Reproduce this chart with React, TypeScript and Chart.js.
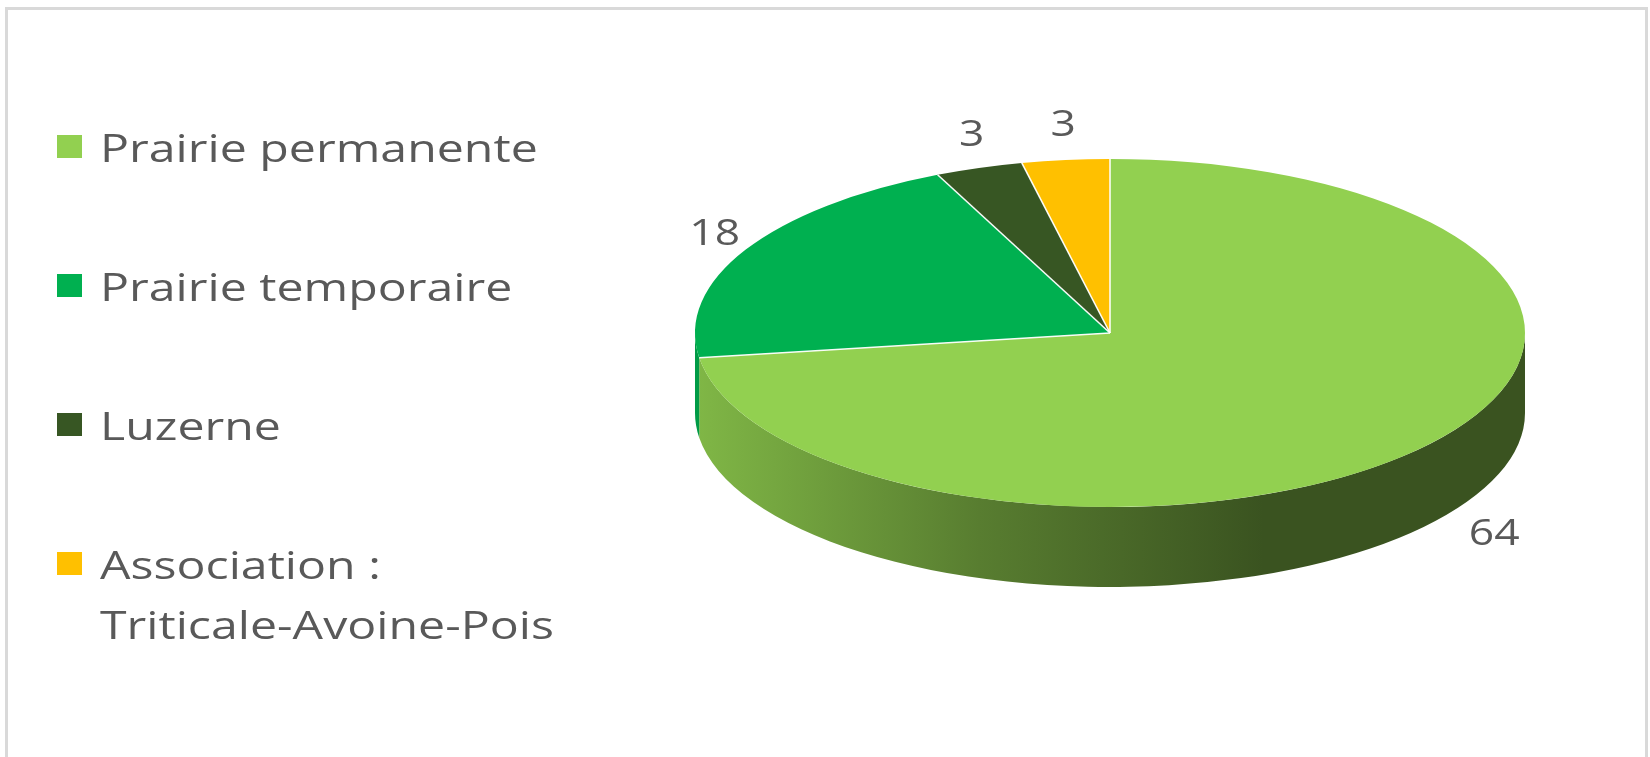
import React, { useEffect, useRef } from "react";
import { Chart, registerables } from "chart.js";

Chart.register(...registerables);

// ---- data ----
const categories: (string | string[])[] = [
  "Prairie permanente",
  "Prairie temporaire",
  "Luzerne",
  ["Association :", "Triticale-Avoine-Pois"],
];
const values = [64, 18, 3, 3];
const sliceColors = ["#92D050", "#00B050", "#375623", "#FFC000"];

// ---- layout / style ----
const W = 1650;
const H = 757;
const FONT = "'Open Sans', 'Noto Sans', sans-serif";
const TEXT_COLOR = "#595959";
const TEXT_SX = 1.27; // horizontal stretch of the text
const FONT_SIZE = 38;
const LABEL_SX = 1.2;
const LABEL_SIZE = 37;
const PIE_RX = 415;
const PIE_RY = 174;
const DEPTH = 80;
const GAP_X = 10;
const GAP_Y = 24;
const FRONT_GAP_X = 68;
const FRONT_GAP_Y = 36;
const LEGEND_X = 57;
const LEGEND_TEXT_X = 100;
const LEGEND_TOP = 148;
const LEGEND_STEP = 139;
const LEGEND_LINE = 60;
const LEGEND_BOX = 24;

function shade(hex: string, f: number) {
  const n = parseInt(hex.slice(1), 16);
  const r = Math.round(((n >> 16) & 255) * f);
  const g = Math.round(((n >> 8) & 255) * f);
  const b = Math.round((n & 255) * f);
  return `rgb(${r},${g},${b})`;
}

function frontRanges(s: number, e: number): [number, number][] {
  const out: [number, number][] = [];
  for (let k = -2; k <= 2; k++) {
    const off = 2 * Math.PI * k;
    const lo = Math.max(s, off);
    const hi = Math.min(e, Math.PI + off);
    if (hi > lo) out.push([lo - off, hi - off]);
  }
  return out;
}

function drawText(
  ctx: CanvasRenderingContext2D,
  text: string,
  x: number,
  baseline: number,
  align: CanvasTextAlign,
  sx: number
) {
  ctx.save();
  ctx.translate(x, baseline);
  ctx.scale(sx, 1);
  ctx.textAlign = align;
  ctx.textBaseline = "alphabetic";
  ctx.fillText(text, 0, 0);
  ctx.restore();
}

const framePlugin = {
  id: "frame",
  beforeDraw(chart: any) {
    const ctx: CanvasRenderingContext2D = chart.ctx;
    ctx.save();
    ctx.fillStyle = "#FFFFFF";
    ctx.fillRect(0, 0, chart.width, chart.height);
    ctx.strokeStyle = "#D9D9D9";
    ctx.lineWidth = 3;
    ctx.strokeRect(6.5, 8.5, 1640, 800);
    ctx.restore();
  },
};

const pie3dPlugin = {
  id: "pie3d",
  beforeDatasetsDraw(chart: any) {
    const ctx: CanvasRenderingContext2D = chart.ctx;
    const arcs = chart.getDatasetMeta(0).data as any[];
    const colors = chart.data.datasets[0].backgroundColor as string[];
    const p0 = arcs[0].getProps(["x", "y", "outerRadius"], true);
    const cx = p0.x;
    const cy = p0.y;
    const R = p0.outerRadius;
    // side walls (front half only)
    arcs.forEach((arc, i) => {
      const p = arc.getProps(["startAngle", "endAngle"], true);
      frontRanges(p.startAngle, p.endAngle).forEach(([a, b]) => {
        const g = ctx.createLinearGradient(cx - PIE_RX, 0, cx + PIE_RX * 0.37, 0);
        g.addColorStop(0, shade(colors[i], 0.88));
        g.addColorStop(0.5, shade(colors[i], 0.6));
        g.addColorStop(1, shade(colors[i], 0.4));
        ctx.beginPath();
        ctx.ellipse(cx, cy, PIE_RX, PIE_RY, 0, a, b, false);
        ctx.ellipse(cx, cy + DEPTH, PIE_RX, PIE_RY, 0, b, a, true);
        ctx.closePath();
        ctx.fillStyle = g;
        ctx.fill();
      });
    });
    // squash the library's pie into the tilted top face
    ctx.save();
    ctx.translate(cx, cy);
    ctx.scale(PIE_RX / R, PIE_RY / R);
    ctx.translate(-cx, -cy);
  },
  afterDatasetsDraw(chart: any) {
    const ctx: CanvasRenderingContext2D = chart.ctx;
    ctx.restore();
    const arcs = chart.getDatasetMeta(0).data as any[];
    const data = chart.data.datasets[0].data as number[];
    const p0 = arcs[0].getProps(["x", "y"], true);
    const cx = p0.x;
    const cy = p0.y;
    // white separators
    ctx.save();
    ctx.strokeStyle = "rgba(255,255,255,0.95)";
    ctx.lineWidth = 1.6;
    arcs.forEach((arc) => {
      const p = arc.getProps(["startAngle"], true);
      ctx.beginPath();
      ctx.moveTo(cx, cy);
      ctx.lineTo(cx + PIE_RX * Math.cos(p.startAngle), cy + PIE_RY * Math.sin(p.startAngle));
      ctx.stroke();
    });
    ctx.restore();
    // data labels (outside end)
    ctx.save();
    ctx.fillStyle = TEXT_COLOR;
    ctx.font = `${LABEL_SIZE}px ${FONT}`;
    const cap = LABEL_SIZE * 0.714;
    arcs.forEach((arc, i) => {
      const p = arc.getProps(["startAngle", "endAngle"], true);
      const mid = (p.startAngle + p.endAngle) / 2;
      const c = Math.cos(mid);
      const s = Math.sin(mid);
      const txt = String(data[i]);
      const w = ctx.measureText(txt).width * LABEL_SX;
      const front = s > 0;
      const gx = front ? FRONT_GAP_X : GAP_X;
      const gy = front ? FRONT_GAP_Y : GAP_Y;
      const ax = cx + (PIE_RX + gx) * c;
      const ay = cy + (PIE_RY + gy) * s + (front ? DEPTH * s : 0);
      const tx = ax + (w / 2) * c;
      const ty = ay + (cap / 2) * s;
      drawText(ctx, txt, tx, ty + cap / 2, "center", LABEL_SX);
    });
    ctx.restore();
  },
  afterDraw(chart: any) {
    // legend
    const ctx: CanvasRenderingContext2D = chart.ctx;
    const labels = chart.data.labels as (string | string[])[];
    const colors = chart.data.datasets[0].backgroundColor as string[];
    ctx.save();
    ctx.font = `${FONT_SIZE}px ${FONT}`;
    const cap = FONT_SIZE * 0.714;
    labels.forEach((lab, i) => {
      const cyRow = LEGEND_TOP + LEGEND_STEP * i;
      ctx.fillStyle = colors[i];
      ctx.fillRect(LEGEND_X, cyRow - LEGEND_BOX / 2 - 1, LEGEND_BOX + 1, LEGEND_BOX - 1);
      ctx.fillStyle = TEXT_COLOR;
      const lines = Array.isArray(lab) ? lab : [lab];
      lines.forEach((ln, j) => {
        drawText(ctx, ln, LEGEND_TEXT_X, cyRow + cap / 2 + j * LEGEND_LINE, "left", TEXT_SX);
      });
    });
    ctx.restore();
  },
};

export default function App() {
  const ref = useRef<HTMLCanvasElement | null>(null);
  useEffect(() => {
    if (!ref.current) return;
    const chart = new Chart(ref.current, {
      type: "pie",
      data: {
        labels: categories as any,
        datasets: [
          {
            data: values,
            backgroundColor: sliceColors,
            borderWidth: 0,
            hoverOffset: 0,
            clip: false as any,
          },
        ],
      },
      options: {
        animation: false,
        responsive: false,
        devicePixelRatio: 1,
        events: [],
        layout: { padding: { left: 810, right: 240, top: 33, bottom: 124 } },
        plugins: {
          legend: { display: false },
          tooltip: { enabled: false },
        },
      },
      plugins: [framePlugin, pie3dPlugin],
    });
    return () => chart.destroy();
  }, []);
  return (
    <div style={{ position: "fixed", left: 0, top: 0, width: W, height: H, background: "#fff" }}>
      <canvas ref={ref} width={W} height={H} style={{ display: "block", width: W, height: H }} />
    </div>
  );
}
